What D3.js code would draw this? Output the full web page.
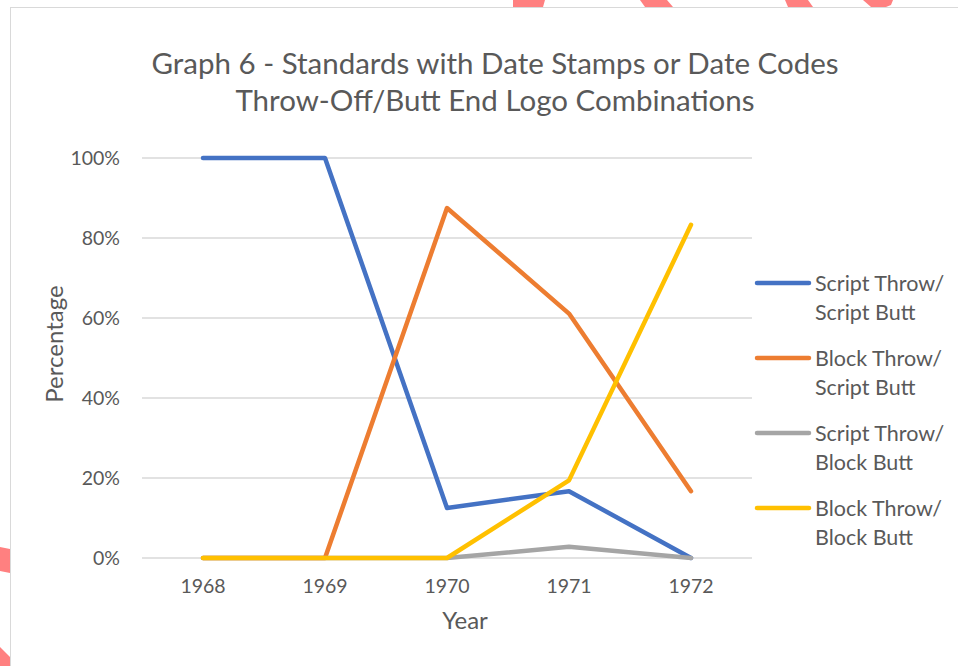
<!DOCTYPE html>
<html>
<head>
<meta charset="utf-8">
<script src="https://cdn.jsdelivr.net/npm/d3@7"></script>
<style>
  body { margin: 0; background: #fff; }
  text { font-family: Lato, "Open Sans", sans-serif; fill: #595959; }
</style>
</head>
<body>
<svg id="chart" width="958" height="666"></svg>
<script>
const years = ['1968', '1969', '1970', '1971', '1972'];
const scriptScript = [100, 100, 12.5, 16.7, 0];
const blockScript = [0, 0, 87.5, 61.1, 16.7];
const scriptBlock = [0, 0, 0, 2.8, 0];
const blockBlock = [0, 0, 0, 19.4, 83.3];
const seriesNames = [['Script Throw/', 'Script Butt'], ['Block Throw/', 'Script Butt'],
  ['Script Throw/', 'Block Butt'], ['Block Throw/', 'Block Butt']];
const seriesColors = ['#4472c4', '#ed7d31', '#a5a5a5', '#ffc000'];
const yTicks = [0, 20, 40, 60, 80, 100];

const series = [scriptScript, blockScript, scriptBlock, blockBlock].map((values, i) => ({
  name: seriesNames[i],
  color: seriesColors[i],
  values,
}));

const svg = d3.select('#chart');

// stray page decorations around the chart frame
const blobs = [
  [[513, 0], [545, 0], [543, 7], [513, 7]],
  [[640, 0], [667, 0], [673, 7], [645, 7]],
  [[785, 0], [808, 0], [813, 7], [788, 7]],
  [[863, 0], [893, 0], [891, 5], [886, 7], [871, 7]],
  [[0, 547], [10, 549], [10, 573], [0, 571]],
  [[0, 647], [10, 657], [10, 666], [0, 666]],
];
svg.selectAll('polygon.blob')
  .data(blobs)
  .enter()
  .append('polygon')
  .attr('points', (d) => d.join(' '))
  .attr('fill', '#ff8080');

svg.append('rect')
  .attr('x', 10.5).attr('y', 7.5)
  .attr('width', 960).attr('height', 670)
  .attr('fill', '#fff')
  .attr('stroke', '#d9d9d9');

const margin = { left: 142, right: 752, top: 158, bottom: 558 };

const xScale = d3.scaleBand()
  .domain(years)
  .range([margin.left, margin.right]);

const yScale = d3.scaleLinear()
  .domain([0, 100])
  .range([margin.bottom, margin.top]);

// gridlines
svg.append('g')
  .selectAll('line')
  .data(yTicks)
  .enter()
  .append('line')
  .attr('x1', margin.left)
  .attr('x2', margin.right)
  .attr('y1', (d) => yScale(d))
  .attr('y2', (d) => yScale(d))
  .attr('stroke', '#d9d9d9')
  .attr('stroke-width', 1.3);

// y axis labels
const yAxis = svg.append('g')
  .attr('transform', `translate(${margin.left - 22},0)`)
  .call(d3.axisLeft(yScale).tickValues(yTicks).tickFormat((d) => `${d}%`).tickSize(0));
yAxis.select('.domain').remove();
yAxis.selectAll('text')
  .attr('x', 0)
  .attr('dy', '0.35em')
  .style('font-size', '19.5px')
  .style('font-family', 'Lato, sans-serif')
  .attr('fill', '#595959');

// x axis labels
const xAxis = svg.append('g')
  .attr('transform', `translate(0,${margin.bottom + 19})`)
  .call(d3.axisBottom(xScale).tickSize(0));
xAxis.select('.domain').remove();
xAxis.selectAll('text')
  .attr('y', 0)
  .attr('dy', '0.8em')
  .style('font-size', '19.5px')
  .style('font-family', 'Lato, sans-serif')
  .attr('fill', '#595959');

const xFn = (d, i) => xScale(years[i]) + xScale.bandwidth() / 2;

const line = d3.line()
  .x(xFn)
  .y((d) => yScale(d));

svg.append('g')
  .selectAll('path')
  .data(series)
  .enter()
  .append('path')
  .attr('d', (d) => line(d.values))
  .attr('fill', 'none')
  .attr('stroke', (d) => d.color)
  .attr('stroke-width', 4.5)
  .attr('stroke-linejoin', 'round')
  .attr('stroke-linecap', 'round');

// titles
svg.append('text')
  .attr('x', 495).attr('y', 74)
  .attr('text-anchor', 'middle')
  .style('font-size', '29.5px')
  .text('Graph 6 - Standards with Date Stamps or Date Codes');
svg.append('text')
  .attr('x', 495).attr('y', 111)
  .attr('text-anchor', 'middle')
  .style('font-size', '29.5px')
  .text('Throw-Off/Butt End Logo Combinations');

svg.append('text')
  .attr('transform', 'translate(63,344) rotate(-90)')
  .attr('text-anchor', 'middle')
  .style('font-size', '24px')
  .text('Percentage');

svg.append('text')
  .attr('x', 465).attr('y', 629)
  .attr('text-anchor', 'middle')
  .style('font-size', '24px')
  .text('Year');

// legend
const legend = svg.append('g')
  .selectAll('g')
  .data(series)
  .enter()
  .append('g')
  .attr('transform', (d, i) => `translate(757,${283 + i * 75})`);

legend.append('line')
  .attr('x1', 0).attr('x2', 52)
  .attr('stroke', (d) => d.color)
  .attr('stroke-width', 4.5)
  .attr('stroke-linecap', 'round');

legend.append('text')
  .attr('x', 58).attr('y', 8)
  .style('font-size', '21.5px')
  .text((d) => d.name[0]);
legend.append('text')
  .attr('x', 58).attr('y', 37)
  .style('font-size', '21.5px')
  .text((d) => d.name[1]);
</script>
</body>
</html>
